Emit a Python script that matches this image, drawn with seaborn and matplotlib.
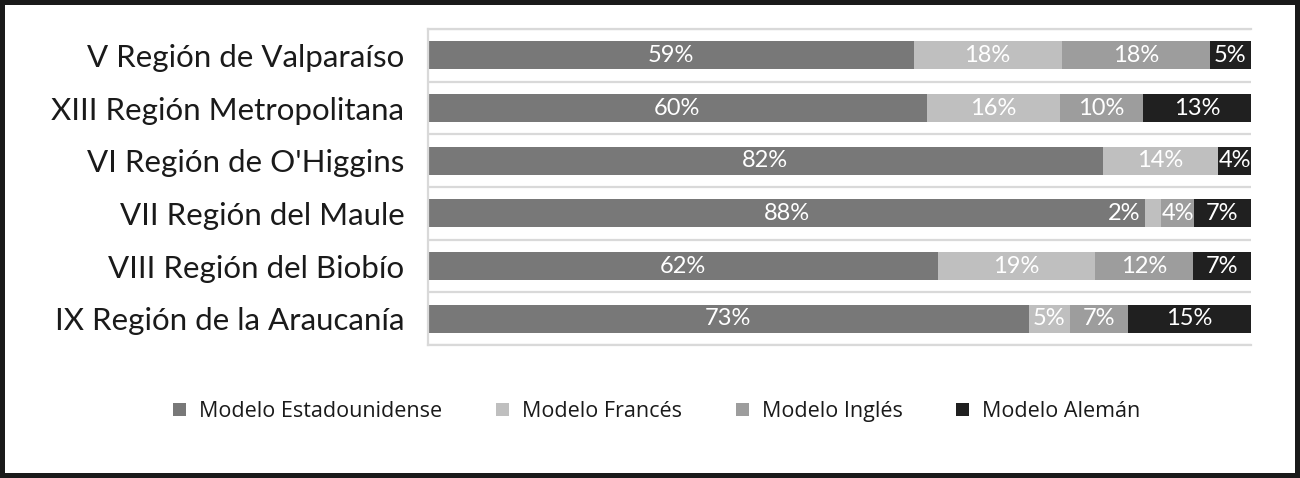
import numpy as np
import pandas as pd
import matplotlib
matplotlib.use("Agg")
import matplotlib.pyplot as plt
import seaborn as sns

regiones = ["V Región de Valparaíso", "XIII Región Metropolitana", "VI Región de O'Higgins",
            "VII Región del Maule", "VIII Región del Biobío", "IX Región de la Araucanía"]
series = ["Modelo Estadounidense", "Modelo Francés", "Modelo Inglés", "Modelo Alemán"]
estadounidense = [59, 60, 82, 88, 62, 73]
frances = [18, 16, 14, 2, 19, 5]
ingles = [18, 10, 0, 4, 12, 7]
aleman = [5, 13, 4, 7, 7, 15]
colores = ["#787878", "#bfbfbf", "#9d9d9d", "#202020"]

sns.set_style("white")
plt.rcParams['font.family'] = ['Lato', 'DejaVu Sans']

vals = np.array([estadounidense, frances, ingles, aleman], dtype=float)
pct = vals / vals.sum(axis=0) * 100
cum = np.cumsum(pct, axis=0)

fig = plt.figure(figsize=(13, 4.78), dpi=100)
fig.patch.set_edgecolor("#1a1a1a")
fig.patch.set_linewidth(5.8)
ax = fig.add_axes([0.3292, 0.2782, 0.6331, 0.6611])

#Step1. stacked bars: draw cumulative totals from the back to the front
for i in range(3, -1, -1):
    df = pd.DataFrame({"Region": regiones, "valor": cum[i]})
    sns.barplot(df, x="valor", y="Region", color=colores[i], width=0.53,
                saturation=1, linewidth=0, ax=ax, label=series[i], zorder=2)

#Step2. data labels
for j in range(len(regiones)):
    for i in range(4):
        if vals[i, j] == 0:
            continue
        ini = cum[i, j] - pct[i, j]
        txt = f"{int(vals[i, j])}%"
        if pct[i, j] < 3:
            ax.text(ini - 0.6, j, txt, ha="right", va="center", color="white",
                    fontsize=17, zorder=3)
        else:
            ax.text(ini + pct[i, j] / 2, j, txt, ha="center", va="center", color="white",
                    fontsize=17, zorder=3)

ax.set_xlim(0, 100)
ax.set_ylim(5.5, -0.5)
ax.set_xticks([])
ax.set_yticks(range(len(regiones)))
ax.set_yticklabels(regiones, fontsize=22.5, color="#1a1a1a")
ax.set_yticks(np.arange(-0.5, 6, 1), minor=True)
ax.tick_params(axis="y", which="both", length=0, pad=17)
ax.grid(False)
ax.grid(which="minor", axis="y", color="#d9d9d9", linewidth=1.6, zorder=0)
ax.set_axisbelow(True)
ax.set_xlabel("")
ax.set_ylabel("")
for s in ["top", "bottom", "left"]:
    ax.spines[s].set_color("#d9d9d9")
    ax.spines[s].set_linewidth(1.6)
ax.spines["right"].set_visible(False)

#Step3. legend
h, l = ax.get_legend_handles_labels()
orden = [l.index(s) for s in series]
if ax.get_legend() is not None:
    ax.get_legend().remove()
fig.legend([h[k] for k in orden], [l[k] for k in orden], loc="center",
           bbox_to_anchor=(0.5054, 0.139), ncol=4, frameon=False,
           prop={"family": ["Open Sans", "DejaVu Sans"], "size": 15.5},
           handlelength=0.6, handleheight=0.6, handletextpad=0.6, columnspacing=2.5,
           labelcolor="#1a1a1a")

fig.savefig("out.png", dpi=100, edgecolor=fig.get_edgecolor())
